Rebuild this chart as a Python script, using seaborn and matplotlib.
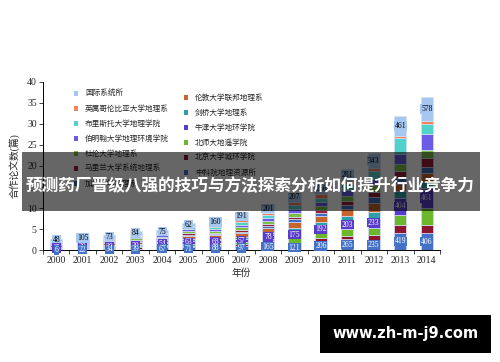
import numpy as np
import pandas as pd
import matplotlib
matplotlib.use('Agg')
import matplotlib.pyplot as plt
from matplotlib.patches import Rectangle
import seaborn as sns

sns.set_style('ticks')
plt.rcParams['font.family'] = ['Liberation Serif', 'Noto Sans CJK SC', 'DejaVu Sans']

years = list(range(2000, 2015))

# institutions, listed from the top of each stack downwards (same as legend order)
names = ['国际系统所', '英属哥伦比亚大学地理系', '布里斯托大学地理学院', '伯明翰大学地理环境学院',
         '杜伦大学地理系', '马里兰大学系统地理系', '加州大学地理系',
         '伦敦大学联邦地理系', '剑桥大学地理系', '牛津大学地环学院', '北师大地遥学院',
         '北京大学城环学院', '中科院地理资源所']
colors = ['#a6c8f0', '#f4845f', '#50d2c8', '#6b5be6', '#79c043', '#98203a', '#3f6fbf',
          '#c8642e', '#2f9fa7', '#5a3ccc', '#6bb82c', '#8e1530', '#4472c8']

# paper counts per year
guoji    = [48, 105, 73, 84, 75, 62, 160, 191, 201, 207, 256, 281, 343, 461, 578]
ubc      = [16, 15, 18, 25, 24, 34, 34, 45, 50, 80, 76, 81, 79, 56, 65]
bristol  = [20, 20, 22, 30, 28, 45, 45, 60, 76, 92, 100, 150, 180, 380, 240]
birm     = [25, 20, 25, 30, 30, 50, 50, 65, 80, 100, 100, 130, 160, 240, 370]
durham   = [20, 20, 25, 32, 30, 50, 45, 60, 70, 90, 90, 120, 150, 160, 200]
maryland = [15, 15, 18, 22, 20, 35, 30, 40, 45, 60, 70, 100, 130, 160, 200]
calif    = [20, 15, 20, 25, 22, 35, 30, 40, 50, 60, 70, 100, 130, 150, 160]
ucl      = [35, 35, 40, 50, 50, 75, 85, 95, 110, 140, 150, 160, 220, 170, 200]
cam      = [20, 20, 25, 30, 28, 40, 40, 50, 60, 75, 80, 100, 140, 160, 160]
oxford   = [15, 20, 20, 30, 54, 63, 68, 57, 78, 175, 192, 203, 233, 404, 461]
bnu      = [20, 18, 20, 28, 30, 45, 45, 60, 60, 100, 100, 160, 180, 240, 400]
pku      = [15, 15, 20, 25, 22, 35, 30, 40, 45, 60, 90, 80, 120, 180, 200]
igsnrr   = [6, 22, 34, 39, 67, 71, 88, 97, 165, 121, 206, 265, 235, 419, 406]

series = [guoji, ubc, bristol, birm, durham, maryland, calif,
          ucl, cam, oxford, bnu, pku, igsnrr]

rows = []
for n, vals in zip(names, series):
    for y, v in zip(years, vals):
        rows.append({'年份': y, '机构': n, '篇数': v / 100})
df = pd.DataFrame(rows)

fig = plt.figure(figsize=(5, 3.62), dpi=100)
ax = fig.add_axes([0.086, 0.309, 0.794, 0.465])

sns.histplot(data=df, x='年份', weights='篇数', hue='机构', hue_order=names,
             palette=colors, multiple='stack', discrete=True, shrink=0.46,
             alpha=1, edgecolor='#d6e0f5', linewidth=0.5, legend=False, ax=ax)

# segment centres for the value labels
base = np.zeros(len(years))
mid = {}
for n, vals in zip(names[::-1], series[::-1]):
    v = np.array(vals) / 100
    mid[n] = base + v / 2
    base = base + v

for i, y in enumerate(years):
    ax.text(y, mid['国际系统所'][i], str(guoji[i]), ha='center', va='center',
            fontsize=5.5, color='black',
            bbox=dict(boxstyle='square,pad=0.1', fc=colors[0], ec='none'))
    ax.text(y, mid['牛津大学地环学院'][i], str(oxford[i]), ha='center', va='center',
            fontsize=5.5, color='white',
            bbox=dict(boxstyle='square,pad=0.1', fc=colors[9], ec='none'))
    ax.text(y, mid['中科院地理资源所'][i], str(igsnrr[i]), ha='center', va='center',
            fontsize=5.5, color='white',
            bbox=dict(boxstyle='square,pad=0.1', fc=colors[12], ec='none'))

ax.set_xlim(1999.5, 2014.5)
ax.set_ylim(0, 40)
ax.set_xticks(years)
ax.set_xticklabels([str(y) for y in years])
ax.set_xticks(np.arange(1999.5, 2015, 1), minor=True)
ax.set_yticks(range(0, 45, 5))
ax.tick_params(axis='x', which='major', length=0, labelsize=7, pad=4)
ax.tick_params(axis='x', which='minor', length=3, width=0.6, direction='out')
ax.tick_params(axis='y', length=3, width=0.6, direction='out', labelsize=7, pad=1.5)
for s in ['top', 'right']:
    ax.spines[s].set_visible(False)
for s in ['left', 'bottom']:
    ax.spines[s].set_linewidth(0.7)
    ax.spines[s].set_color('black')

ax.set_ylabel('合作论文数(篇)', fontsize=7)
ax.yaxis.set_label_coords(-0.06, 0.5)
ax.set_xlabel('年份', fontsize=7, labelpad=3)

handles = [Rectangle((0, 0), 1, 1, fc=c, ec='none') for c in colors]
leg_kw = dict(loc='upper left', bbox_transform=fig.transFigure, frameon=False,
              fontsize=5.5, handlelength=0.55, handleheight=0.55, handletextpad=0.9,
              labelspacing=0.92, borderpad=0, borderaxespad=0)
leg1 = ax.legend(handles[:7], names[:7], bbox_to_anchor=(74 / 500, 1 - 90 / 362), **leg_kw)
ax.add_artist(leg1)
ax.legend(handles[7:], names[7:], bbox_to_anchor=(184 / 500, 1 - 94 / 362), **leg_kw)

# overlay banner and watermark
fig.patches.append(Rectangle((0.044, 0.417), 0.916, 0.163, transform=fig.transFigure,
                             fc='black', ec='none', alpha=0.6, zorder=10))
fig.text(0.5, 0.486, '预测药厂晋级八强的技巧与方法探索分析如何提升行业竞争力',
         ha='center', va='center', color='white', fontsize=12, fontweight='bold',
         family=['Noto Sans CJK SC', 'DejaVu Sans'], zorder=11)
fig.patches.append(Rectangle((0.64, 0.026), 0.342, 0.104, transform=fig.transFigure,
                             fc='black', ec='none', zorder=10))
fig.text(0.811, 0.078, 'www.zh-m-j9.com', ha='center', va='center', color='white',
         fontsize=10.5, fontweight='bold', family='DejaVu Sans', zorder=11)

fig.savefig('out.png', dpi=100)
